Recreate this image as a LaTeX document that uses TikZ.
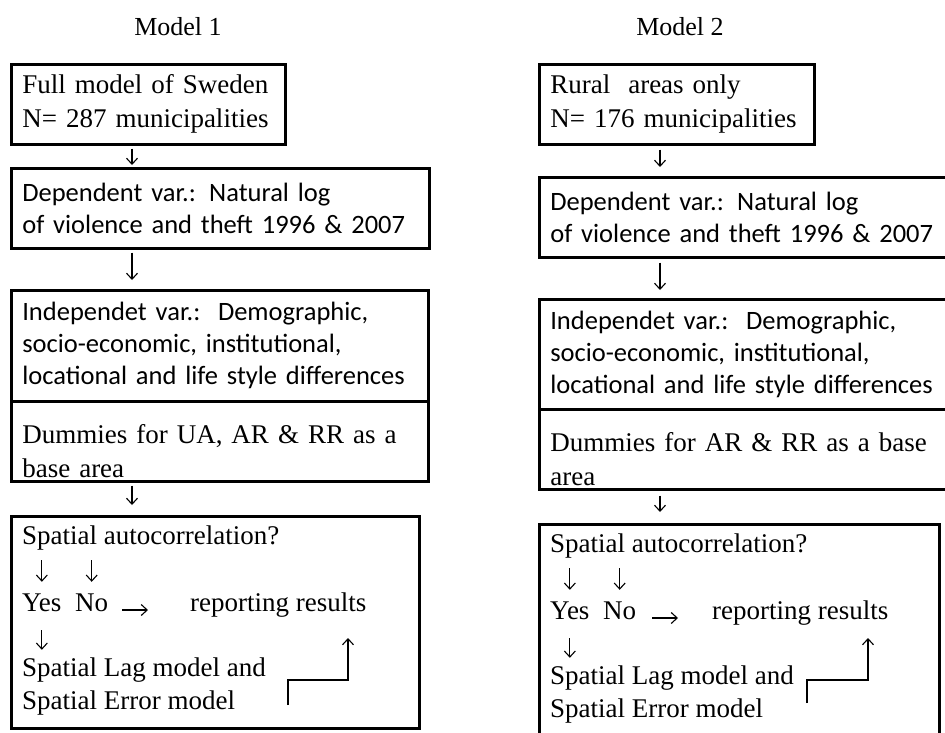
\documentclass[tikz,border=0pt]{standalone}
\usepackage{fontspec}
\setmainfont{Liberation Serif}
\newfontfamily\calfont[WordSpace=0.5]{Carlito}
\usetikzlibrary{arrows.meta}
\hyphenpenalty=10000

\begin{document}
\begin{tikzpicture}[x=1pt,y=-1pt]
    \tikzstyle{box}=[draw, line width=2.6pt, rectangle, anchor=north west, align=left, inner xsep=11pt, inner ysep=0pt, font=\fontsize{27}{34}\selectfont]
    \tikzstyle{sbox}=[box, font=\fontsize{26.5}{32}\selectfont\calfont]
    \tikzstyle{txt}=[anchor=west, inner sep=0pt, text height=19pt, text depth=7pt, font=\fontsize{27}{33}\selectfont]
    \tikzstyle{arr}=[-{Straight Barb[length=6pt,width=11pt]}, line width=1.1pt]
    \useasboundingbox (0,0) rectangle (945,733);
    % Model 1
    \node[font=\fontsize{26}{30}\selectfont] (t1) at (178,27) {Model 1};
    \node[box, minimum width=274pt, minimum height=80pt, text width=252pt] (b11) at (10,63) {Full model of Sweden\\N= 287 municipalities};
    \node[sbox, minimum width=418pt, minimum height=80pt, text width=396pt] (b12) at (10,167) {Dependent var.: Natural log\\of violence and theft 1996 \& 2007};
    \node[sbox, minimum width=417pt, minimum height=111pt, text width=395pt] (b13) at (10,289) {Independet var.:\ \ Demographic,\\socio-economic, institutional,\\locational and life style differences};
    \node[box, minimum width=417pt, minimum height=80pt, text width=395pt, text depth=14pt] (b14) at (10,400) {Dummies for UA, AR \& RR as a\\base area};
    \node[box, minimum width=408pt, minimum height=212pt] (b15) at (10,515) {};
    \draw[arr, shorten <=3pt, shorten >=2pt] ([xshift=122pt]b11.south west) -- ([xshift=122pt]b12.north west);
    \draw[arr, shorten <=3pt, shorten >=9pt] ([xshift=122pt]b12.south west) -- ([xshift=122pt]b13.north west);
    \draw[arr, shorten <=3pt, shorten >=10pt] ([xshift=122pt]b14.south west) -- ([xshift=122pt]b15.north west);
    \node[txt] (sa1) at (22,538) {Spatial autocorrelation?};
    \node[txt] (yes1) at (22,605) {Yes};
    \node[txt] (no1) at (75,605) {No};
    \node[txt] (rep1) at (190,605) {reporting results};
    \node[txt] (lag1) at (22,670) {Spatial Lag model and};
    \node[txt] (err1) at (22,703) {Spatial Error model};
    \coordinate (st1) at (288,705);
    \coordinate (en1) at (348,638);
    \draw[arr, shorten <=9pt, shorten >=10pt] (yes1.north |- sa1.south) -- (yes1.north);
    \draw[arr, shorten <=9pt, shorten >=10pt] (no1.north |- sa1.south) -- (no1.north);
    \draw[arr, shorten <=14pt, shorten >=42pt] ([yshift=-5pt]no1.east) -- ([yshift=-5pt]rep1.west);
    \draw[arr, shorten <=12pt, shorten >=7pt] (yes1.south) -- (yes1.south |- lag1.north);
    \draw[arr] (st1) -- ++(0,-25) -| (en1);
    % Model 2
    \node[font=\fontsize{26}{30}\selectfont] (t2) at (680,27) {Model 2};
    \node[box, minimum width=275pt, minimum height=80pt, text width=253pt] (b21) at (538,63) {Rural\ \ areas only\\N= 176 municipalities};
    \node[sbox, minimum width=412pt, minimum height=80pt, text width=390pt] (b22) at (538,176) {Dependent var.: Natural log\\of violence and theft 1996 \& 2007};
    \node[sbox, minimum width=412pt, minimum height=110pt, text width=390pt] (b23) at (538,298) {Independet var.:\ \ Demographic,\\socio-economic, institutional,\\locational and life style differences};
    \node[box, minimum width=412pt, minimum height=80pt, text width=390pt, text depth=14pt] (b24) at (538,408) {Dummies for AR \& RR as a base\\area};
    \node[box, minimum width=400pt, minimum height=240pt] (b25) at (538,523) {};
    \draw[arr, shorten <=4pt, shorten >=9pt] ([xshift=122pt]b21.south west) -- ([xshift=122pt]b22.north west);
    \draw[arr, shorten <=4pt, shorten >=8pt] ([xshift=122pt]b22.south west) -- ([xshift=122pt]b23.north west);
    \draw[arr, shorten <=5pt, shorten >=11pt] ([xshift=122pt]b24.south west) -- ([xshift=122pt]b25.north west);
    \node[txt] (sa2) at (550,546) {Spatial autocorrelation?};
    \node[txt] (yes2) at (550,613) {Yes};
    \node[txt] (no2) at (603,613) {No};
    \node[txt] (rep2) at (712,613) {reporting results};
    \node[txt] (lag2) at (550,678) {Spatial Lag model and};
    \node[txt] (err2) at (550,711) {Spatial Error model};
    \coordinate (st2) at (807,703);
    \coordinate (en2) at (868,638);
    \draw[arr, shorten <=9pt, shorten >=10pt] (yes2.north |- sa2.south) -- (yes2.north);
    \draw[arr, shorten <=9pt, shorten >=10pt] (no2.north |- sa2.south) -- (no2.north);
    \draw[arr, shorten <=16pt, shorten >=34pt] ([yshift=-5pt]no2.east) -- ([yshift=-5pt]rep2.west);
    \draw[arr, shorten <=12pt, shorten >=7pt] (yes2.south) -- (yes2.south |- lag2.north);
    \draw[arr] (st2) -- ++(0,-23) -| (en2);
\end{tikzpicture}
\end{document}
